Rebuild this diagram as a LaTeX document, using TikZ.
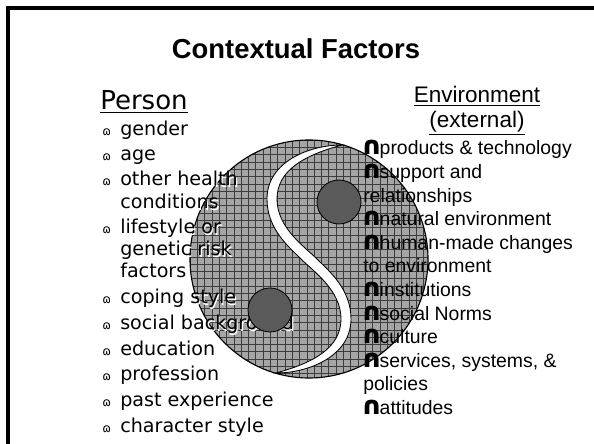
\documentclass[tikz,border=0pt]{standalone}
\usepackage{fontspec}
\setmainfont{Liberation Sans}
\newfontfamily\persfont{DejaVu Sans}
\usepackage{tikz}
\definecolor{yyfill}{RGB}{165,165,165}
\definecolor{yygrid}{RGB}{60,60,60}
\definecolor{yydot}{RGB}{90,90,90}
\newcommand\halo[1]{\rlap{\hspace{0.8pt}\raisebox{-0.8pt}{\color{white}#1}}#1}
\newcommand\pbul{{\persfont\fontsize{8.5}{8}\selectfont ɷ}}
\newcommand\ebul{{\persfont\bfseries\fontsize{17.5}{12}\selectfont\kern-1.6pt\rlap{∩}\kern0.9pt∩\kern-1.8pt}}
\tikzset{
  pitem/.style={anchor=base west, inner sep=0, font=\persfont\fontsize{13.6}{14}\selectfont},
  pbullet/.style={anchor=base west, inner sep=0},
  eitem/.style={anchor=base west, inner sep=0, font=\fontsize{13.8}{16}\selectfont},
  ehead/.style={anchor=base, inner sep=0, font=\fontsize{16}{18}\selectfont},
}

\begin{document}
\begin{tikzpicture}[x=0.025cm,y=-0.025cm]
      \useasboundingbox (0,0) rectangle (594,444);
      \draw[line width=2.2pt, line join=miter] (8,444) -- (8,8) -- (594,8);
      \node[anchor=base, inner sep=0, font=\bfseries\fontsize{19.5}{22}\selectfont] (title) at (296,59) {Contextual Factors};
      % yin yang
      \begin{scope}
        \clip (309,259) circle (119);
        \fill[yyfill] (190,140) rectangle (428,378);
        \foreach \g in {190,197.3,...,430} \draw[yygrid, line width=0.3pt] (\g,140) -- (\g,378);
        \foreach \g in {140,147.3,...,380} \draw[yygrid, line width=0.3pt] (190,\g) -- (428,\g);
      \end{scope}
      \filldraw[fill=white, draw=black, line width=0.6pt] (342,145)
        .. controls (309,145) and (267,162) .. (267,199)
        .. controls (267,229) and (289,247) .. (301,259)
        .. controls (313,271) and (341,290) .. (341,319)
        .. controls (341,348) and (313,363) .. (276,373)
        .. controls (309,373) and (351,356) .. (351,319)
        .. controls (351,289) and (329,271) .. (317,259)
        .. controls (305,247) and (277,228) .. (277,199)
        .. controls (277,170) and (305,155) .. (342,145) -- cycle;
      \draw[line width=0.8pt] (309,259) circle (119);
      % person
      \node[anchor=base west, inner sep=0, font=\persfont\fontsize{18.5}{20}\selectfont] (person) at (100,110) {\underline{Person}};
      \node[pbullet] (pb1) at (102,136) {\pbul};
      \node[pitem] (p1) at (120,136) {\halo{gender}};
      \node[pbullet] (pb2) at (102,161) {\pbul};
      \node[pitem] (p2) at (120,161) {\halo{age}};
      \node[pbullet] (pb3) at (102,186) {\pbul};
      \node[pitem] (p3) at (120,186) {\halo{other health}};
      \node[pitem] (p4) at (120,209) {\halo{conditions}};
      \node[pbullet] (pb5) at (102,234) {\pbul};
      \node[pitem] (p5) at (120,234) {\halo{lifestyle or}};
      \node[pitem] (p6) at (120,256) {\halo{genetic risk}};
      \node[pitem] (p7) at (120,278) {\halo{factors}};
      \node[pbullet] (pb8) at (102,304) {\pbul};
      \node[pitem] (p8) at (120,304) {\halo{coping style}};
      \node[pbullet] (pb9) at (102,330) {\pbul};
      \node[pitem] (p9) at (120,330) {\halo{social background}};
      \node[pbullet] (pb10) at (102,356) {\pbul};
      \node[pitem] (p10) at (120,356) {\halo{education}};
      \node[pbullet] (pb11) at (102,381) {\pbul};
      \node[pitem] (p11) at (120,381) {\halo{profession}};
      \node[pbullet] (pb12) at (102,407) {\pbul};
      \node[pitem] (p12) at (120,407) {\halo{past experience}};
      \node[pbullet] (pb13) at (102,433) {\pbul};
      \node[pitem] (p13) at (120,433) {\halo{character style}};
      % dots
      \filldraw[fill=yydot, draw=black, line width=0.6pt] (339,202) circle (22);
      \filldraw[fill=yydot, draw=black, line width=0.6pt] (270,310) circle (22);
      % environment
      \node[ehead] (env) at (477,103) {\underline{Environment}};
      \node[ehead] (ext) at (477,128) {\underline{(external)}};
      \node[eitem] (e1) at (363,155) {\ebul products \& technology};
      \node[eitem] (e2) at (363,178.6) {\ebul support and};
      \node[eitem] (e3) at (363,202.2) {relationships};
      \node[eitem] (e4) at (363,225.8) {\ebul natural environment};
      \node[eitem] (e5) at (363,249.4) {\ebul human-made changes};
      \node[eitem] (e6) at (363,273) {to environment};
      \node[eitem] (e7) at (363,296.6) {\ebul institutions};
      \node[eitem] (e8) at (363,320.2) {\ebul social Norms};
      \node[eitem] (e9) at (363,343.8) {\ebul culture};
      \node[eitem] (e10) at (363,367.4) {\ebul services, systems, \&};
      \node[eitem] (e11) at (363,391) {policies};
      \node[eitem] (e12) at (363,414.6) {\ebul attitudes};
\end{tikzpicture}
\end{document}
